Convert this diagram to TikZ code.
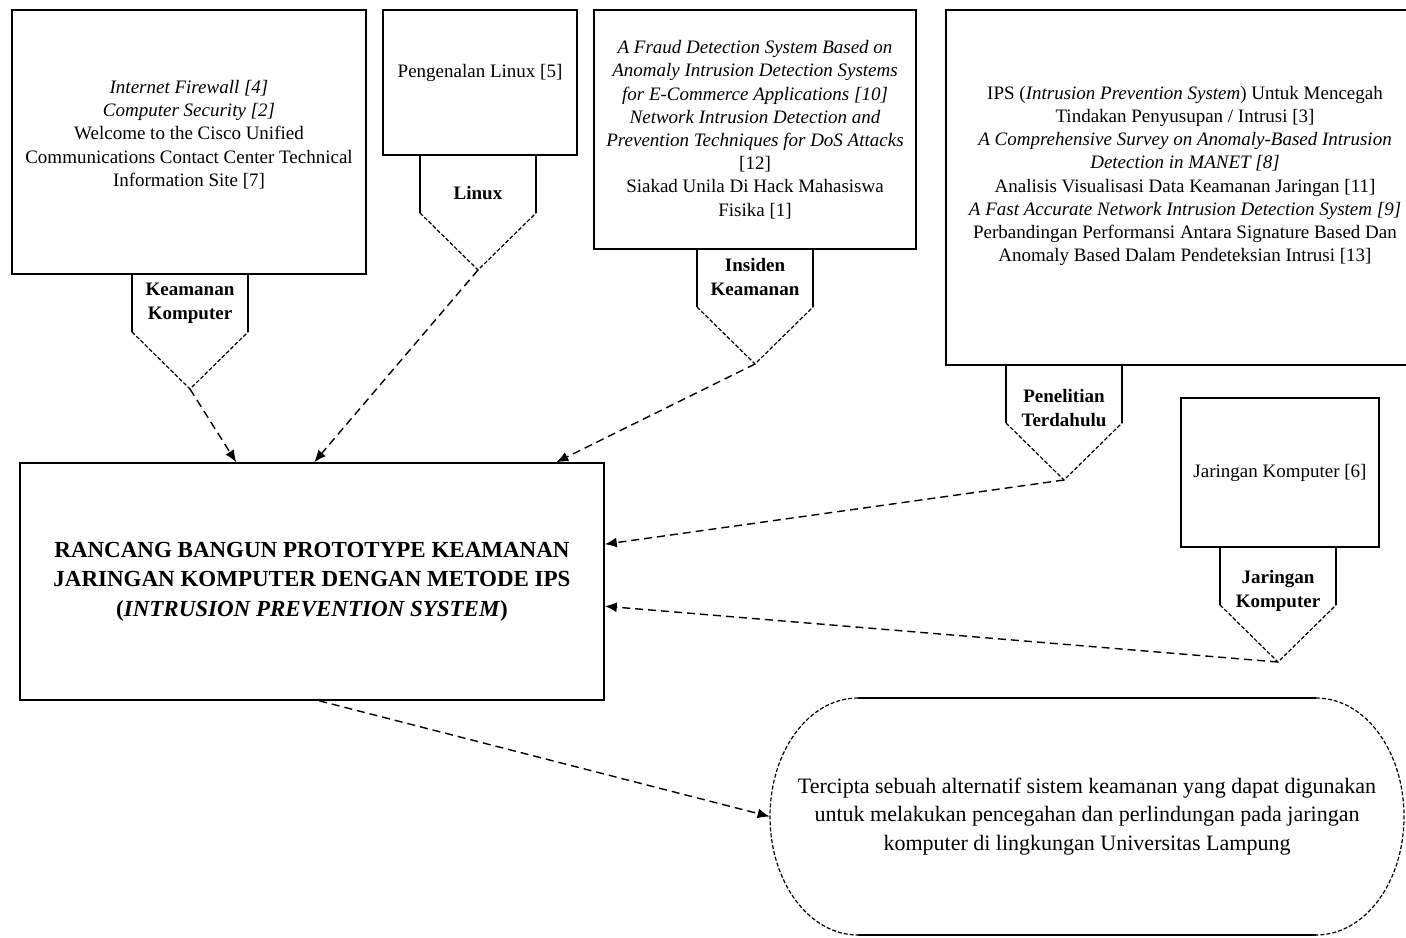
\documentclass[tikz,border=0pt]{standalone}
\usepackage{fontspec}
\setmainfont{Liberation Serif}
\usetikzlibrary{arrows.meta}

\tikzset{
  refbox/.style={draw,line width=0.8pt,align=center,inner sep=2pt,
    font=\fontsize{9.5}{11.6}\selectfont},
  taglabel/.style={align=center,inner sep=1pt,font=\fontsize{9.5}{12}\selectfont\bfseries},
  tagedge/.style={line width=0.6pt,dash pattern=on 2pt off 1pt},
  flow/.style={line width=0.7pt,dash pattern=on 4pt off 2.5pt,-{Latex[length=6pt,width=5pt]}}
}

% pentagon tag under a box: name of tip, centre x, top y
\newcommand{\tagshape}[3]{%
  \draw[line width=0.8pt] ({#2-58},#3) -- ({#2-58},{#3+58}) ({#2+58},#3) -- ({#2+58},{#3+58});
  \draw[tagedge] ({#2-58},{#3+58}) -- (#2,{#3+115}) -- ({#2+58},{#3+58});
  \coordinate (#1) at (#2,{#3+115});}

\begin{document}
\begin{tikzpicture}[x=0.5pt,y=-0.5pt]
\useasboundingbox (0,0) rectangle (1406,937);

% sources
\node[refbox,minimum width=177pt,minimum height=132pt] (keamanan) at (189,142) {
\textit{Internet Firewall [4]}\\ \textit{Computer Security [2]}\\ Welcome to the Cisco Unified\\
Communications Contact Center Technical\\ Information Site [7]\\[-3pt]};
\node[refbox,minimum width=97pt,minimum height=72.5pt] (linux) at (480,82.5) {Pengenalan Linux [5]\\[0pt]};
\node[refbox,minimum width=161pt,minimum height=119.5pt] (insiden) at (755,129.5) {
\textit{A Fraud Detection System Based on}\\ \textit{Anomaly Intrusion Detection Systems}\\
\textit{for E-Commerce Applications [10]}\\ \textit{Network Intrusion Detection and}\\
\textit{Prevention Techniques for DoS Attacks}\\ {[12]}\\ Siakad Unila Di Hack Mahasiswa\\ Fisika [1]};
\node[refbox,minimum width=239pt,minimum height=177.5pt] (penelitian) at (1185,187.5) {
IPS (\textit{Intrusion Prevention System}) Untuk Mencegah\\ Tindakan Penyusupan / Intrusi [3]\\
\textit{A Comprehensive Survey on Anomaly-Based Intrusion}\\ \textit{Detection in MANET [8]}\\
Analisis Visualisasi Data Keamanan Jaringan [11]\\ \textit{A Fast Accurate Network Intrusion Detection System [9]}\\
Perbandingan Performansi Antara Signature Based Dan\\ Anomaly Based Dalam Pendeteksian Intrusi [13]\\[2pt]};
\node[refbox,minimum width=99pt,minimum height=74.5pt] (jaringan) at (1280,472.5) {Jaringan Komputer [6]};

% tags
\tagshape{tipkk}{190}{274}
\tagshape{tiplx}{478}{155}
\tagshape{tipin}{755}{249}
\tagshape{tippt}{1064}{365}
\tagshape{tipjk}{1278}{547}
\node[taglabel] (lblkk) at (190,303) {Keamanan\\Komputer};
\node[taglabel] (lbllx) at (478,193) {Linux};
\node[taglabel] (lblin) at (755,277) {Insiden\\Keamanan};
\node[taglabel] (lblpt) at (1064,408) {Penelitian\\Terdahulu};
\node[taglabel] (lbljk) at (1278,591) {Jaringan\\Komputer};

% main box and result
\node[refbox,minimum width=292pt,minimum height=118.5pt,font=\fontsize{11.5}{14.8}\selectfont\bfseries] (main) at (312,581.5) {
RANCANG BANGUN PROTOTYPE KEAMANAN\\ JARINGAN KOMPUTER DENGAN METODE IPS\\ (\textit{INTRUSION PREVENTION SYSTEM})};
\node[align=center,inner sep=0pt,minimum width=317pt,minimum height=118.5pt,font=\fontsize{11}{14.3}\selectfont] (hasil) at (1087,816.5) {
Tercipta sebuah alternatif sistem keamanan yang dapat digunakan\\ untuk melakukan pencegahan dan perlindungan pada jaringan\\ komputer di lingkungan Universitas Lampung};
\draw[line width=0.8pt] (858,698) -- (1316,698) (858,935) -- (1316,935);
\draw[tagedge] (858,698) .. controls (809,698) and (770,751) .. (770,816.5) .. controls (770,882) and (809,935) .. (858,935);
\draw[tagedge] (1316,698) .. controls (1365,698) and (1404,751) .. (1404,816.5) .. controls (1404,882) and (1365,935) .. (1316,935);

% connectors
\draw[flow] (tipkk) -- ([xshift=108.5pt]main.north west);
\draw[flow] (tiplx) -- ([xshift=147.5pt]main.north west);
\draw[flow] (tipin) -- ([xshift=268.5pt]main.north west);
\draw[flow] (tippt) -- ([yshift=-41pt]main.north east);
\draw[flow] (tipjk) -- ([yshift=-72pt]main.north east);
\draw[flow] ([xshift=150pt]main.south west) -- (hasil.west);
\end{tikzpicture}
\end{document}
